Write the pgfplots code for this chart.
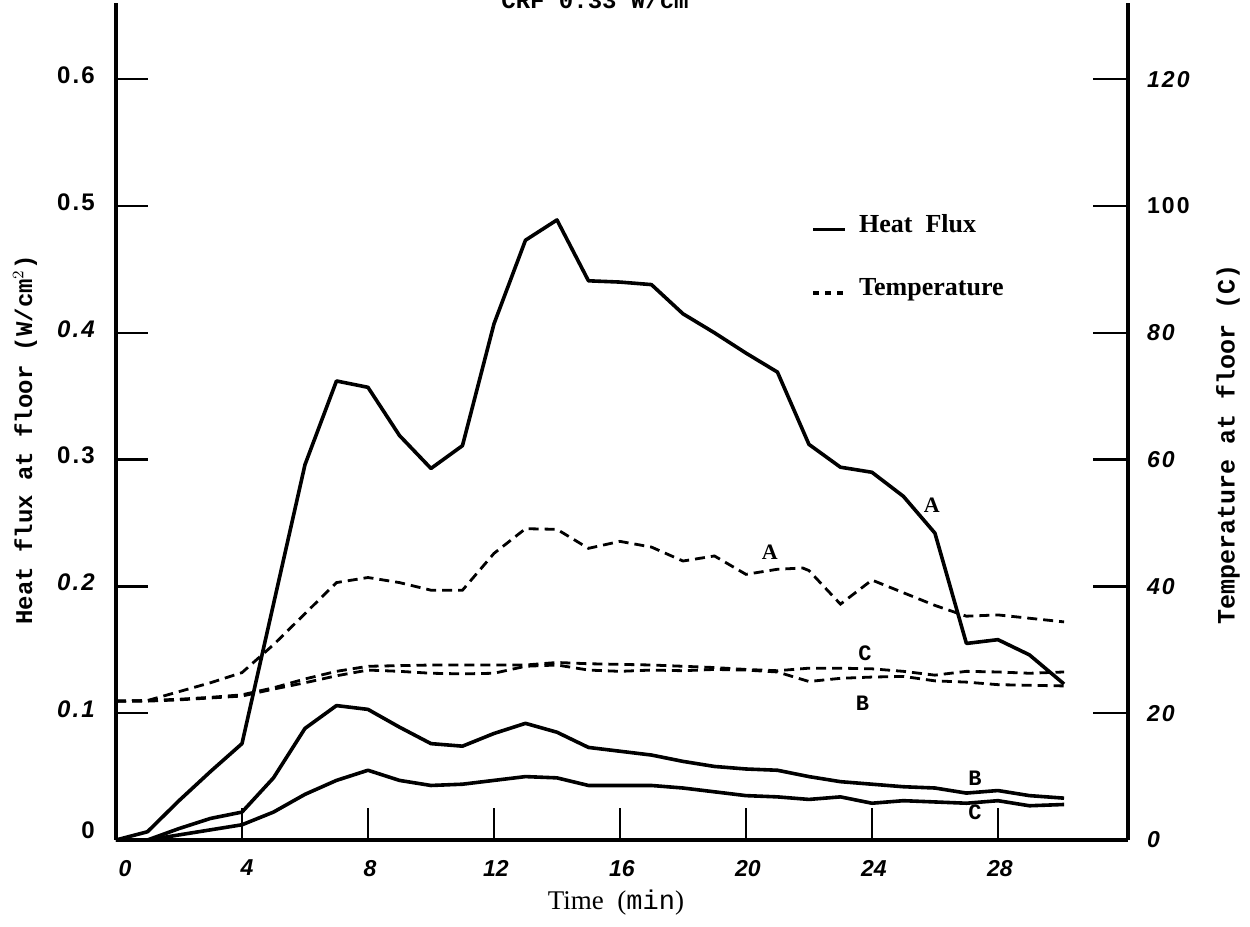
\documentclass[border=0pt]{standalone}
\usepackage{fontspec}
\setmainfont{Liberation Serif}
\newfontfamily\tickfont[LetterSpace=9]{Liberation Sans}
\newfontfamily\xtickfont{Liberation Sans}
\newfontfamily\lblmono{Liberation Mono}
\usepackage{pgfplots}
\pgfplotsset{compat=1.18}

\pgfplotstableread{
t q
0 0
1 0.0065
2 0.031
3 0.054
4 0.076
6 0.296
7 0.362
8 0.357
9 0.319
10 0.293
11 0.311
12 0.407
13 0.473
14 0.489
15 0.441
16 0.440
17 0.438
18 0.415
19 0.400
20 0.384
21 0.369
22 0.312
23 0.294
24 0.290
25 0.271
26 0.242
27 0.155
28 0.158
29 0.146
30.1 0.123
}\fluxA

\pgfplotstableread{
t q
0 0
1 0.0
2 0.009
3 0.017
4 0.022
5 0.049
6 0.088
7 0.106
8 0.103
9 0.089
10 0.076
11 0.074
12 0.084
13 0.092
14 0.085
15 0.073
16 0.070
17 0.067
18 0.062
19 0.058
20 0.056
21 0.055
22 0.050
23 0.046
24 0.044
25 0.042
26 0.041
27 0.037
28 0.039
29 0.035
30.1 0.033
}\fluxB

\pgfplotstableread{
t q
0 0
1 0.0
2 0.004
3 0.008
4 0.012
5 0.022
6 0.036
7 0.047
8 0.055
9 0.047
10 0.043
11 0.044
12 0.047
13 0.050
14 0.049
15 0.043
16 0.043
17 0.043
18 0.041
19 0.038
20 0.035
21 0.034
22 0.032
23 0.034
24 0.029
25 0.031
26 0.030
27 0.029
28 0.031
29 0.027
30.1 0.028
}\fluxC

\pgfplotstableread{
t T
0 21.9
1 22.0
2 23.4
3 24.8
4 26.4
5 30.8
6 35.7
7 40.6
8 41.4
9 40.6
10 39.4
11 39.4
12 45.2
13 49.1
14 49.0
15 46.0
16 47.1
17 46.2
18 44.0
19 44.8
20 41.9
21 42.7
21.8 42.9
22 42.5
23 37.2
24 41.0
25 39.0
26 37.0
27 35.3
28 35.5
30.1 34.4
}\tempA

\pgfplotstableread{
t T
0 21.9
1 21.9
2 22.1
3 22.4
4 22.7
5 23.8
6 24.8
7 25.9
8 26.8
9 26.6
10 26.3
11 26.2
12 26.3
13 27.4
14 27.6
15 26.8
16 26.6
17 26.8
18 26.7
19 26.9
20 26.8
21 26.5
22 25.0
23 25.5
24 25.7
25 25.8
26 25.1
27 24.9
28 24.5
29 24.4
30.1 24.3
}\tempB

\pgfplotstableread{
t T
0 21.9
1 22.0
2 22.2
3 22.5
4 22.9
5 24.0
6 25.4
7 26.6
8 27.4
9 27.5
10 27.6
11 27.6
12 27.6
13 27.6
14 28.0
15 27.8
16 27.7
17 27.6
18 27.4
19 27.2
20 26.9
21 26.7
22 27.1
23 27.1
24 27.0
25 26.6
26 26.0
27 26.6
28 26.5
29 26.3
30.1 26.5
}\tempC

\begin{document}
\begin{tikzpicture}
\begin{axis}[
  name=main, at={(0,0)}, anchor=south west,
  scale only axis, width=506pt, height=418.45pt,
  xmin=0, xmax=32.13, ymin=0, ymax=0.66,
  axis x line*=bottom, axis y line*=left,
  axis line style={line width=2.2pt, black},
  tick align=inside, major tick length=16pt,
  every tick/.style={line width=1.2pt, black},
  xtick={0,4,8,12,16,20,24,28},
  xticklabels={\hspace*{7pt}0,\hspace*{3pt}4,8,12,16,20,24,28},
  xticklabel style={font=\xtickfont\bfseries\itshape\fontsize{11.5}{14}\selectfont, yshift=-6.5pt, xshift=1pt},
  ytick={0,0.1,0.2,0.3,0.4,0.5,0.6},
  yticklabels={\raisebox{6pt}{\textbf{0}},\textbf{\itshape 0.1},\textbf{\itshape 0.2},\textbf{0.3},\textbf{\itshape 0.4},\textbf{0.5},\textbf{0.6}},
  yticklabel style={font=\tickfont\fontsize{12}{14}\selectfont, xshift=-6pt, yshift=2pt},
  clip=false,
  legend cell align=left,
  legend image code/.code={\draw[#1] (0pt,-2pt) -- (16pt,-2pt);},
  legend style={draw=none, fill=none, at={(rel axis cs:0.681,0.757)}, anchor=north west,
    font=\bfseries\fontsize{13}{15}\selectfont, row sep=17.5pt,
    nodes={inner xsep=6pt}},
]
\addlegendimage{black, line width=1.8pt}
\addlegendentry{Heat\ \ Flux}
\addlegendimage{black, line width=1.8pt, dash pattern=on 3pt off 3pt}
\addlegendentry{Temperature}
\addplot[black, line width=1.8pt, line join=round, forget plot] table[x=t, y=q] {\fluxA};
\addplot[black, line width=1.8pt, line join=round, forget plot] table[x=t, y=q] {\fluxB};
\addplot[black, line width=1.8pt, line join=round, forget plot] table[x=t, y=q] {\fluxC};
\node[font=\bfseries\fontsize{11}{13}\selectfont] at (axis cs:25.9,0.264) {A};
\node[font=\bfseries\fontsize{11}{13}\selectfont] at (axis cs:20.76,0.227) {A};
\node[font=\lblmono\bfseries\fontsize{11}{13}\selectfont] at (axis cs:23.78,0.147) {C};
\node[font=\lblmono\bfseries\fontsize{11}{13}\selectfont] at (axis cs:23.7,0.108) {B};
\node[font=\lblmono\bfseries\fontsize{11}{13}\selectfont] at (axis cs:27.27,0.0487) {B};
\node[font=\lblmono\bfseries\fontsize{11}{13}\selectfont] at (axis cs:27.27,0.0215) {C};
\node[rotate=90, font=\lblmono\bfseries\fontsize{12}{14}\selectfont] at (rel axis cs:-0.0899,0.478) {Heat flux at floor (W/cm$^{2}$)};
\node[rotate=90, font=\lblmono\bfseries\fontsize{12.5}{14}\selectfont] at (rel axis cs:1.0988,0.4725) {Temperature at floor (C)};
\node[font=\fontsize{13.5}{15}\selectfont] at (rel axis cs:0.494,-0.0753) {Time\ \ ({\lblmono min})};
\node[anchor=base, font=\lblmono\bfseries\fontsize{12}{14}\selectfont] at (rel axis cs:0.478,0.994) {CRF 0.33 W/cm$^{2}$};
\end{axis}
\begin{axis}[
  at={(0,0)}, anchor=south west,
  scale only axis, width=506pt, height=418.45pt,
  xmin=0, xmax=32.13, ymin=0, ymax=132,
  axis x line=none, axis y line*=right,
  axis line style={line width=2.2pt, black},
  tick align=inside, major tick length=17.5pt,
  every tick/.style={line width=1.2pt, black},
  ytick={0,20,40,60,80,100,120},
  yticklabels={\textbf{\itshape 0},\textbf{\itshape 20},\textbf{\itshape 40},\textbf{\itshape 60},\textbf{\itshape 80},\textbf{100},\textbf{\itshape 120}},
  yticklabel style={font=\tickfont\fontsize{11.5}{13}\selectfont, xshift=6pt},
  clip=false,
]
\addplot[black, line width=1.4pt, dash pattern=on 5pt off 3pt] table[x=t, y=T] {\tempA};
\addplot[black, line width=1.4pt, dash pattern=on 5pt off 3pt] table[x=t, y=T] {\tempB};
\addplot[black, line width=1.4pt, dash pattern=on 5pt off 3pt] table[x=t, y=T] {\tempC};
\end{axis}
\pgfresetboundingbox
\path[use as bounding box] (-58pt,-43.5pt) rectangle (567pt,420pt);
\end{tikzpicture}
\end{document}
